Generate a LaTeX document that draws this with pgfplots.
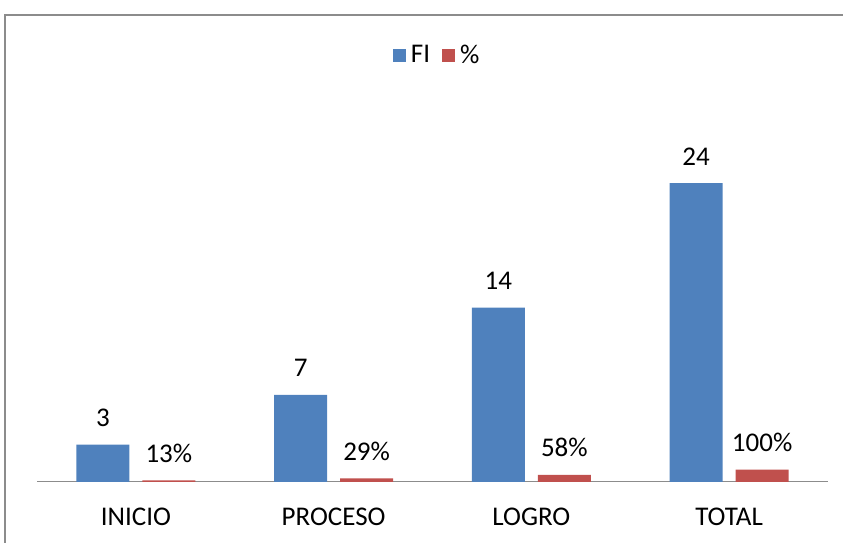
\documentclass[border=0pt]{standalone}
\usepackage{pgfplots}
\pgfplotsset{compat=1.18}
\usepackage{fontspec}
\setmainfont{Carlito}
\definecolor{fiblue}{HTML}{4F81BD}
\definecolor{pcred}{HTML}{C0504D}
\definecolor{framegray}{HTML}{8C8C8C}
\begin{document}
\begin{tikzpicture}[x=1pt,y=1pt]
\useasboundingbox (0,0) rectangle (843,543);
\draw[framegray, line width=1.2pt] (5,-5) -- (5,528) -- (850,528);
\begin{axis}[
  at={(37pt,61pt)}, anchor=south west,
  scale only axis, width=791pt, height=386pt,
  xmin=-0.5, xmax=3.5, ymin=0, ymax=31,
  axis x line*=bottom, axis y line=none,
  x axis line style={draw=framegray, line width=1pt, -},
  xtick={0,1,2,3}, xticklabels={INICIO,PROCESO,LOGRO,TOTAL},
  major tick length=0pt,
  ytick=\empty,
  ybar=13pt, bar width=53pt,
  font=\fontsize{27}{31}\selectfont,
  xticklabel style={anchor=base, yshift=-44pt, font=\fontsize{27}{31}\selectfont},
  nodes near coords, point meta=explicit symbolic,
  every node near coord/.append style={anchor=base, yshift=18pt, text=black, font=\fontsize{27}{31}\selectfont},
  legend columns=2,
  legend style={at={(0.506,1.106)}, anchor=center, draw=none, fill=none,
    font=\fontsize{27}{31}\selectfont,
    /tikz/every odd column/.append style={column sep=3pt},
    /tikz/every even column/.append style={column sep=10pt}},
  legend image code/.code={\fill[#1] (0pt,-6.5pt) rectangle (13pt,6.5pt);},
]
\addplot[fill=fiblue, draw=none] coordinates {(0,3) [3] (1,7) [7] (2,14) [14] (3,24) [24]};
\addplot[fill=pcred, draw=none] coordinates {(0,0.13) [13\%] (1,0.29) [29\%] (2,0.58) [58\%] (3,1.00) [100\%]};
\legend{FI,\%}
\end{axis}
\end{tikzpicture}
\end{document}
